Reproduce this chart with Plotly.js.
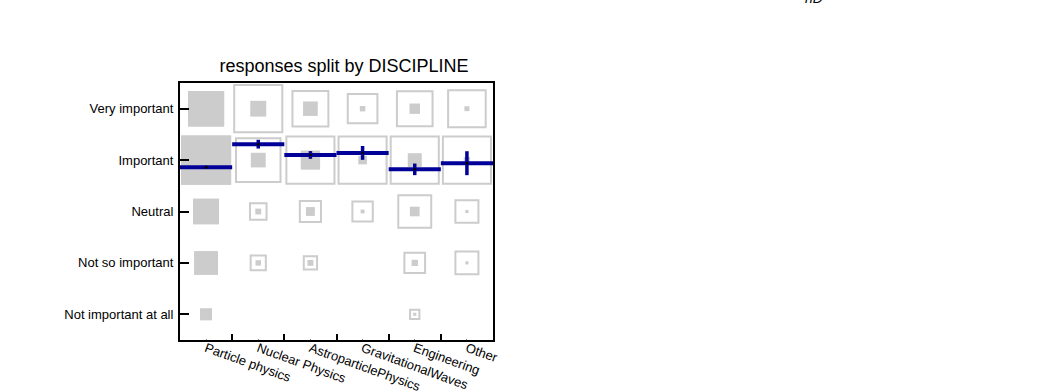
<!DOCTYPE html>
<html>
<head>
<meta charset="utf-8">
<script src="https://cdn.plot.ly/plotly-3.0.1.min.js"></script>
<style>
  html, body { margin: 0; padding: 0; background: #ffffff; }
  #chart { width: 1043px; height: 392px; }
</style>
</head>
<body>
<div id="chart"></div>
<script>
// ---- data ----
const categories = ['Particle physics', 'Nuclear Physics', 'AstroparticlePhysics', 'GravitationalWaves', 'Engineering', 'Other'];
const responseLabels = ['Very important', 'Important', 'Neutral', 'Not so important', 'Not important at all'];
const responseScores = [5, 4, 3, 2, 1];

// estimated response counts per discipline (order of responseLabels)
const countsParticle = [260, 500, 133, 113, 28];
const countsNuclear  = [51, 44, 7, 6, 0];
const countsAstro    = [43, 75, 16, 7, 0];
const countsGrav     = [6, 15, 3, 0, 0];
const countsEng      = [22, 39, 19, 8, 2];
const countsOther    = [5, 8, 2, 2, 0];

// profile (mean score and its error) per discipline
const profileMean = [3.86, 4.31, 4.10, 4.14, 3.82, 3.94];
const profileErr  = [0.03, 0.085, 0.075, 0.135, 0.113, 0.233];

// ---- drawing ----
const FONT = 'Liberation Sans, Arial, Helvetica, sans-serif';
const GREY = '#cccccc';
const BLUE = '#000099';
const W = 1043, H = 392;
const margin = {l: 180, r: 550, t: 83, b: 52};
const plotW = W - margin.l - margin.r;
const pxPerX = plotW / categories.length;
const pxPerY = (H - margin.t - margin.b) / responseScores.length;
const boxScale = 0.96;
const strokePx = 2;

const catPos = categories.map((_, i) => i);
const catBounds = categories.slice(1).map((_, i) => i + 0.5);

const columns = [countsParticle, countsNuclear, countsAstro, countsGrav, countsEng, countsOther];
const globalMax = Math.max(...columns.map(c => Math.max(...c)));

const shapes = [];
columns.forEach((col, i) => {
  col.forEach((c, j) => {
    if (c <= 0) return;
    const y = responseScores[j];
    // filled box: content relative to the whole histogram
    const hf = Math.sqrt(c / globalMax) * boxScale / 2;
    shapes.push({type: 'rect', xref: 'x', yref: 'y', layer: 'below',
      x0: catPos[i] - hf, x1: catPos[i] + hf, y0: y - hf, y1: y + hf,
      fillcolor: GREY, line: {width: 0}});
  });
});
columns.forEach((col, i) => {
  const colMax = Math.max(...col);
  col.forEach((c, j) => {
    if (c <= 0) return;
    const y = responseScores[j];
    // open box: content normalised within its discipline column
    const ho = Math.sqrt(c / colMax) * boxScale / 2;
    const dx = (strokePx / 2) / pxPerX, dy = (strokePx / 2) / pxPerY;
    shapes.push({type: 'rect', xref: 'x', yref: 'y', layer: 'below',
      x0: catPos[i] - ho + dx, x1: catPos[i] + ho - dx, y0: y - ho + dy, y1: y + ho - dy,
      fillcolor: 'rgba(0,0,0,0)', line: {color: GREY, width: strokePx}});
  });
});

const profile = {
  type: 'scatter', mode: 'markers', x: catPos, y: profileMean,
  marker: {color: '#000000', size: 3},
  error_x: {type: 'constant', value: 0.5, thickness: 4, width: 0, color: BLUE},
  error_y: {type: 'data', array: profileErr, thickness: 3.5, width: 0, color: BLUE},
  showlegend: false, hoverinfo: 'skip', cliponaxis: false
};

const layout = {
  width: W, height: H, margin: margin,
  paper_bgcolor: '#ffffff', plot_bgcolor: '#ffffff',
  showlegend: false,
  font: {family: FONT, color: '#000000', size: 13},
  title: {text: 'responses split by DISCIPLINE', font: {family: FONT, size: 18, color: '#000000'},
          xref: 'paper', x: (344 - margin.l) / plotW, xanchor: 'center', yref: 'container', y: (H - 66) / H, yanchor: 'middle'},
  xaxis: {type: 'linear', range: [-0.5, categories.length - 0.5],
          tickmode: 'array', tickvals: catPos, ticktext: categories,
          ticks: 'inside', ticklen: 1, tickwidth: 1, tickcolor: '#888888',
          minor: {tickmode: 'array', tickvals: catBounds, ticks: 'inside', ticklen: 6, tickwidth: 2, tickcolor: '#000000', showgrid: false},
          showline: true, linewidth: 2, linecolor: '#000000', mirror: true,
          showgrid: false, zeroline: false, tickangle: 20, ticklabelstandoff: -6,
          tickfont: {family: FONT, size: 13, color: '#000000'}, fixedrange: true},
  yaxis: {range: [0.5, 5.5], tickmode: 'array', tickvals: responseScores, ticktext: responseLabels,
          ticks: 'inside', ticklen: 9, tickwidth: 2, tickcolor: '#000000',
          showline: true, linewidth: 2, linecolor: '#000000', mirror: true,
          showgrid: false, zeroline: false, ticklabelstandoff: 2,
          tickfont: {family: FONT, size: 13, color: '#000000'}, fixedrange: true},
  shapes: shapes,
  annotations: [{text: 'nD', xref: 'paper', yref: 'paper', x: (814 - margin.l) / plotW,
                 y: 1 + (margin.t - 8) / (H - margin.t - margin.b), xanchor: 'center', yanchor: 'bottom',
                 showarrow: false, font: {family: FONT, size: 14, color: '#000000', style: 'italic'}}]
};

Plotly.newPlot('chart', [profile], layout, {displayModeBar: false, staticPlot: true});
</script>
</body>
</html>
